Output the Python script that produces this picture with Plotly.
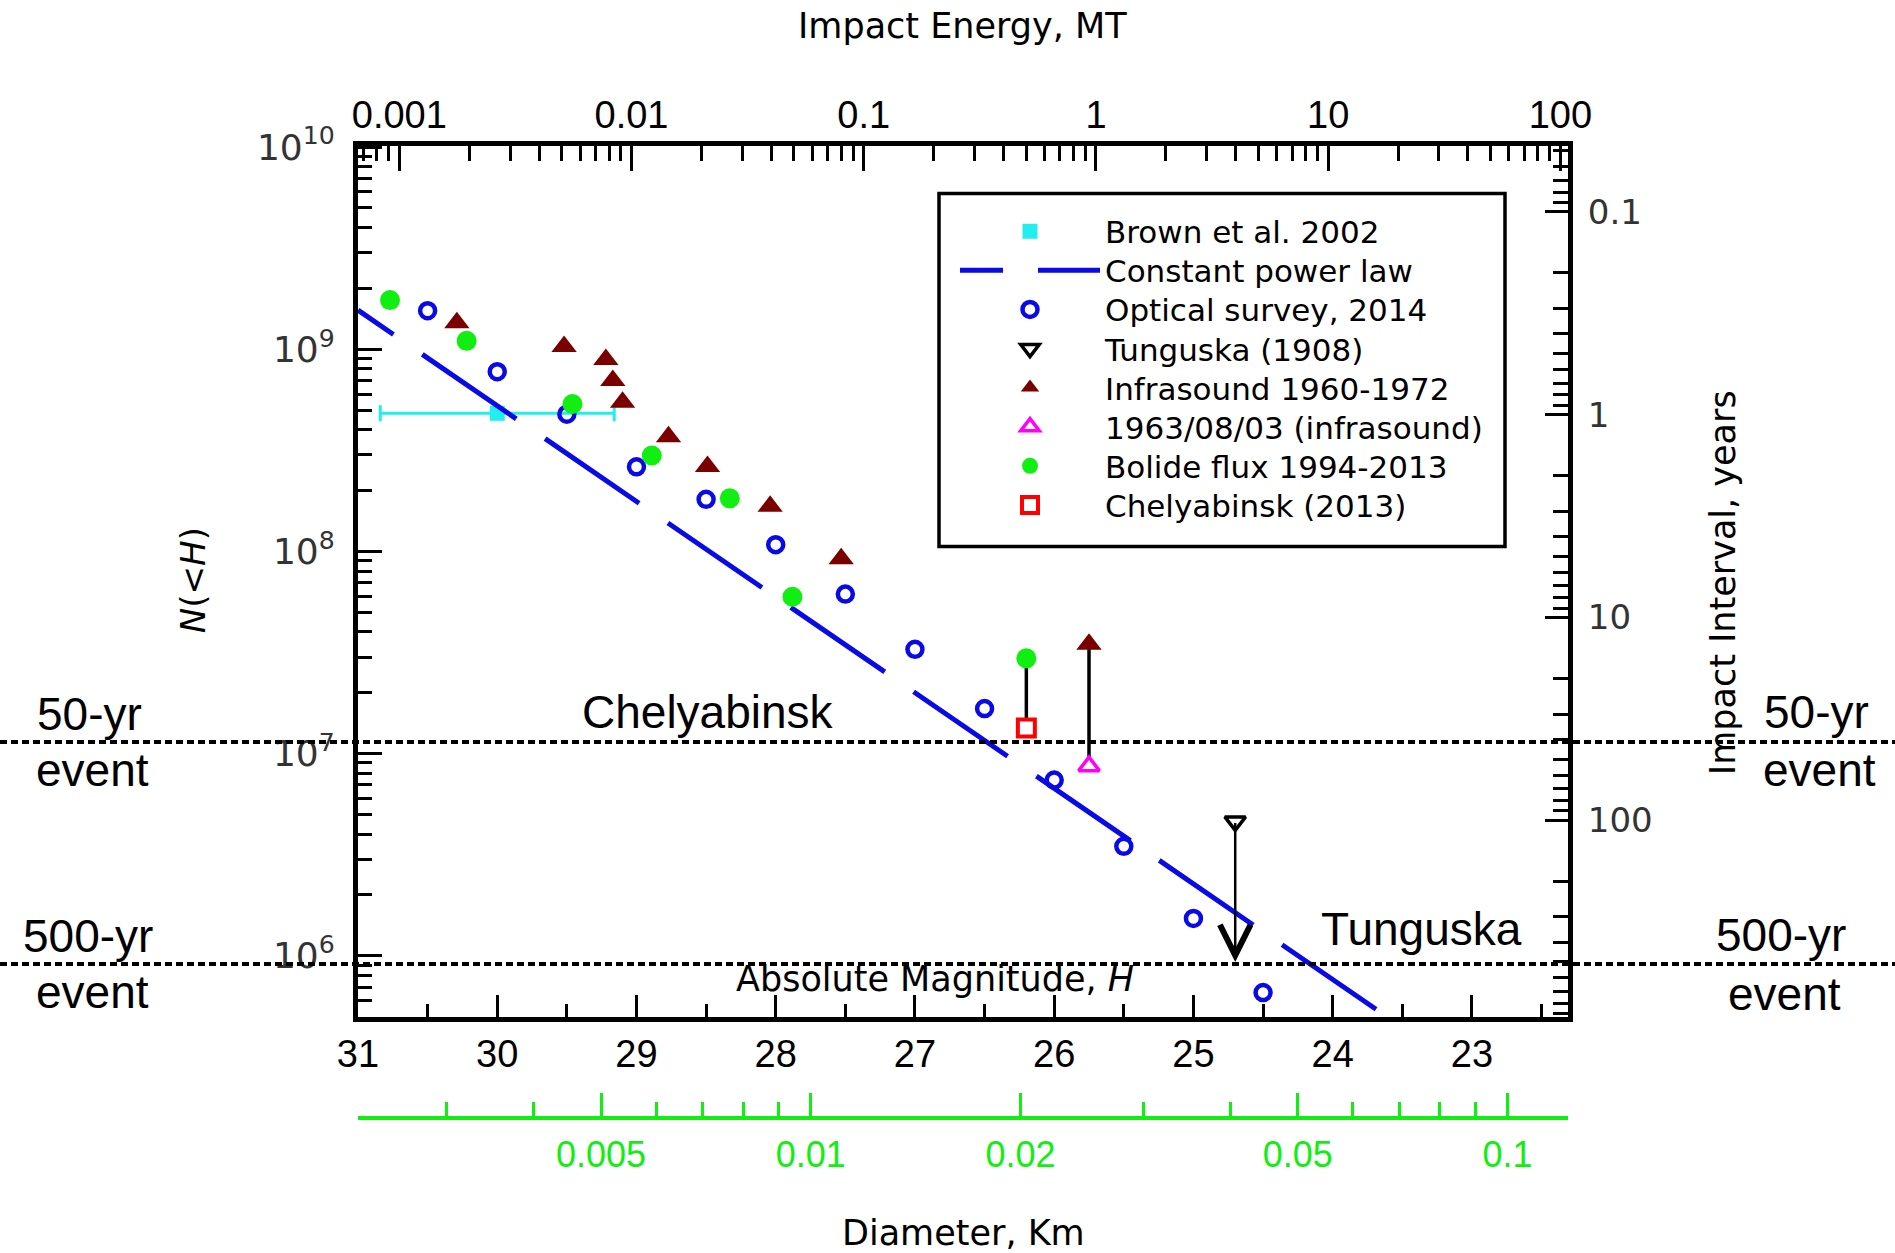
import numpy as np
import plotly.graph_objects as go

# ---------------- data ----------------
H_brown = [30.0]
N_brown = [4.82e8]
H_brown_err = [0.84]

H_power = [31.0, 23.66]
N_power = [1.56e9, 5.27e5]

H_optical = [30.5, 30.0, 29.5, 29.0, 28.5, 28.0, 27.5, 27.0, 26.5, 26.0, 25.5, 25.0, 24.5]
N_optical = [1.55e9, 7.74e8, 4.77e8, 2.62e8, 1.81e8, 1.08e8, 6.15e7, 3.28e7, 1.67e7,
             7.40e6, 3.48e6, 1.53e6, 6.58e5]

H_tung = [24.70]
N_tung = [4.62e6]
N_tung_limit = [9.33e5]

H_infra = [30.29, 29.52, 29.22, 29.17, 29.10, 28.77, 28.49, 28.04, 27.53, 25.75]
N_infra = [1.35e9, 1.03e9, 8.9e8, 7.0e8, 5.46e8, 3.69e8, 2.63e8, 1.67e8, 9.2e7, 3.47e7]

H_1963 = [25.75]
N_1963 = [8.67e6]

H_bolide = [30.77, 30.22, 29.46, 28.89, 28.33, 27.88, 26.20]
N_bolide = [1.75e9, 1.10e9, 5.36e8, 2.98e8, 1.83e8, 5.97e7, 2.96e7]

H_chel = [26.20]
N_chel = [1.34e7]

N_50yr = 1.14e7
N_500yr = 9.1e5

H_ticks = [31, 30, 29, 28, 27, 26, 25, 24, 23]
E_ticks = [0.001, 0.01, 0.1, 1, 10, 100]
E_ticktext = ["0.001", "0.01", "0.1", "1", "10", "100"]
N_ticks = [1e6, 1e7, 1e8, 1e9, 1e10]
N_ticktext = ["10<sup>6</sup>", "10<sup>7</sup>", "10<sup>8</sup>", "10<sup>9</sup>", "10<sup>10</sup>"]
T_ticks = [0.1, 1, 10, 100]
T_ticktext = ["0.1", "1", "10", "100"]
D_ticks = [0.005, 0.01, 0.02, 0.05, 0.1]
D_ticktext = ["0.005", "0.01", "0.02", "0.05", "0.1"]
D_minor = [0.003, 0.004, 0.006, 0.007, 0.008, 0.009, 0.03, 0.04, 0.06, 0.07, 0.08, 0.09]

legend_names = ["Brown et al. 2002", "Constant power law", "Optical survey, 2014",
                "Tunguska (1908)", "Infrasound 1960-1972", "1963/08/03 (infrasound)",
                "Bolide flux 1994-2013", "Chelyabinsk (2013)"]

# ---------------- styling / layout helpers ----------------
ARIAL = "Liberation Sans, Arial, sans-serif"
DEJAVU = "DejaVu Sans, Verdana, sans-serif"
GREEN = "#11EE11"
BLUE = "#0A0AE6"
MAROON = "#7A0000"
CYAN = "#22EEEE"
MAGENTA = "#FF00FF"
RED = "#FF0000"

W, HGT = 1895, 1253
PL, PR, PT, PB = 358, 1568, 146, 1117.7   # paper box in px
PLOT_BOTTOM = 1017


def pp(x, y):
    return (x - PL) / (PR - PL), (PB - y) / (PB - PT)


def log_minor(lo, hi):
    out = []
    for e in range(lo, hi + 1):
        for m in range(2, 10):
            out.append(m * 10.0 ** e)
    return out


fig = go.Figure()

# power-law dash pattern
dash_pl = ",".join(f"{v}px" for v in ([43, 35] + [114, 35] * 10))

fig.add_trace(go.Scatter(
    x=H_brown, y=N_brown, mode="markers", name=legend_names[0], legend="legend",
    marker=dict(symbol="square", size=15, color=CYAN),
    error_x=dict(type="data", array=H_brown_err, color=CYAN, thickness=3, width=8)))

fig.add_trace(go.Scatter(
    x=H_power, y=N_power, mode="lines", name=legend_names[1], legend="legend2",
    line=dict(color=BLUE, width=5, dash=dash_pl)))

# connecting black lines (Chelyabinsk range, 1963 event range)
fig.add_trace(go.Scatter(
    x=[H_chel[0], H_bolide[-1]], y=[N_chel[0], N_bolide[-1]], mode="lines",
    line=dict(color="black", width=3.5), showlegend=False, hoverinfo="skip"))
fig.add_trace(go.Scatter(
    x=[H_1963[0], H_infra[-1]], y=[N_1963[0], N_infra[-1]], mode="lines",
    line=dict(color="black", width=3.5), showlegend=False, hoverinfo="skip"))

fig.add_trace(go.Scatter(
    x=H_optical, y=N_optical, mode="markers", name=legend_names[2], legend="legend3",
    marker=dict(symbol="circle-open", size=15, color=BLUE, line=dict(width=4.5, color=BLUE))))

fig.add_trace(go.Scatter(
    x=H_tung, y=N_tung, mode="markers", name=legend_names[3], legend="legend4",
    marker=dict(symbol="triangle-down", size=18, color="white", line=dict(width=3.5, color="black"))))

fig.add_trace(go.Scatter(
    x=H_infra, y=N_infra, mode="markers", name=legend_names[4], legend="legend5",
    marker=dict(symbol="triangle-up", size=22, color=MAROON)))

fig.add_trace(go.Scatter(
    x=H_1963, y=N_1963, mode="markers", name=legend_names[5], legend="legend6",
    marker=dict(symbol="triangle-up", size=18, color="white", line=dict(width=3.5, color=MAGENTA))))

fig.add_trace(go.Scatter(
    x=H_bolide, y=N_bolide, mode="markers", name=legend_names[6], legend="legend7",
    marker=dict(symbol="circle", size=20, color=GREEN)))

fig.add_trace(go.Scatter(
    x=H_chel, y=N_chel, mode="markers", name=legend_names[7], legend="legend8",
    marker=dict(symbol="square", size=17, color="white", line=dict(width=4, color=RED))))

# empty placeholder traces so the secondary axes (energy, interval, diameter) are drawn
for xa, ya in (("x2", "y"), ("x", "y2"), ("x3", "y")):
    fig.add_trace(go.Scatter(x=[None], y=[None], xaxis=xa, yaxis=ya, mode="markers",
                             showlegend=False, hoverinfo="skip"))

ydom0 = (PB - PLOT_BOTTOM) / (PB - PT)

tick_black = dict(ticks="inside", tickcolor="black", tickwidth=3)

layout = dict(
    width=W, height=HGT,
    margin=dict(l=PL, r=W - PR, t=PT, b=HGT - PB, pad=0, autoexpand=False),
    paper_bgcolor="white", plot_bgcolor="white",
    showlegend=True,
    xaxis=dict(
        domain=[0, 1], range=[31, 22.31], showline=True, linewidth=5, linecolor="black",
        ticklen=22, **tick_black,
        tickvals=H_ticks, ticktext=[str(v) for v in H_ticks],
        tickfont=dict(family=ARIAL, size=38, color="black"),
        minor=dict(tickvals=[v - 0.5 for v in H_ticks] + [22.5], ticks="inside", ticklen=13,
                   tickwidth=3, tickcolor="black", showgrid=False),
        showgrid=False, zeroline=False, automargin=False, ticklabelstandoff=-1),
    yaxis=dict(
        domain=[ydom0, 1], type="log", range=[5.696, 10.005], showline=True, linewidth=5,
        linecolor="black", ticklen=24, **tick_black,
        tickvals=N_ticks, ticktext=N_ticktext,
        tickfont=dict(family=DEJAVU, size=36, color="#333333"),
        minor=dict(tickvals=log_minor(5, 9), ticks="inside", ticklen=14, tickwidth=3,
                   tickcolor="black", showgrid=False),
        showgrid=False, zeroline=False, automargin=False, ticklabelstandoff=11),
    xaxis2=dict(
        overlaying="x", side="top", anchor="y", type="log", range=[-3.178, 2.033],
        showline=True, linewidth=5, linecolor="black", ticklen=25, **tick_black,
        tickvals=E_ticks, ticktext=E_ticktext,
        tickfont=dict(family=ARIAL, size=38, color="black"),
        minor=dict(tickvals=log_minor(-4, 2), ticks="inside", ticklen=15, tickwidth=3,
                   tickcolor="black", showgrid=False),
        showgrid=False, zeroline=False, automargin=False, ticklabelstandoff=-2),
    yaxis2=dict(
        overlaying="y", side="right", anchor="x", type="log", range=[2.973, -1.325],
        showline=True, linewidth=5, linecolor="black", ticklen=23, **tick_black,
        tickvals=T_ticks, ticktext=T_ticktext,
        tickfont=dict(family=DEJAVU, size=34, color="#333333"),
        minor=dict(tickvals=log_minor(-2, 2), ticks="inside", ticklen=15, tickwidth=3,
                   tickcolor="black", showgrid=False),
        showgrid=False, zeroline=False, automargin=False, ticklabelstandoff=8),
    xaxis3=dict(
        overlaying="x", anchor="free", position=0, side="bottom", type="log",
        range=[-2.650, -0.913], showline=True, linewidth=4, linecolor=GREEN,
        ticks="inside", tickcolor=GREEN, tickwidth=3, ticklen=23,
        tickvals=D_ticks, ticktext=D_ticktext,
        tickfont=dict(family=ARIAL, size=36, color=GREEN),
        minor=dict(tickvals=D_minor, ticks="inside", ticklen=14, tickwidth=3,
                   tickcolor=GREEN, showgrid=False),
        showgrid=False, zeroline=False, automargin=False, ticklabelstandoff=4),
)

# one legend per row so rows sit at the reference spacing
row0, row_step = 231.5, 39.1
for i in range(8):
    key = "legend" if i == 0 else f"legend{i + 1}"
    lx, ly = pp(955, row0 + row_step * i)
    layout[key] = dict(x=lx, y=ly, xanchor="left", yanchor="middle",
                       bgcolor="rgba(0,0,0,0)", borderwidth=0, itemwidth=140,
                       font=dict(family=DEJAVU, size=31, color="black"))

fig.update_layout(**layout)

# legend frame
bx0, by0 = pp(939, 193.4)
bx1, by1 = pp(1505, 546.3)
fig.add_shape(type="rect", xref="paper", yref="paper", x0=bx0, y0=by0, x1=bx1, y1=by1,
              line=dict(color="black", width=3.5), fillcolor="rgba(0,0,0,0)", layer="above")

# dotted 50-yr / 500-yr lines across the whole figure
xl, _ = pp(0, 0)
xr, _ = pp(W, 0)
for level in (N_50yr, N_500yr):
    fig.add_shape(type="line", xref="paper", yref="y", x0=xl, x1=xr,
                  y0=level, y1=level,
                  line=dict(color="black", width=4, dash="7px,4px"), layer="above")

# Tunguska upper-limit arrow
fig.add_annotation(x=H_tung[0], y=np.log10(N_tung_limit[0]), xref="x", yref="y",
                   ax=H_tung[0], ay=np.log10(N_tung[0]), axref="x", ayref="y",
                   text="", showarrow=True, arrowhead=5, arrowsize=2.4, arrowwidth=2.5,
                   arrowcolor="black", standoff=0, startstandoff=0)


def add_text(txt, x, y, family, size, color="black", angle=0):
    px_, py_ = pp(x, y)
    fig.add_annotation(x=px_, y=py_, xref="paper", yref="paper", text=txt, showarrow=False,
                       xanchor="center", yanchor="middle", textangle=angle,
                       font=dict(family=family, size=size, color=color))


add_text("Impact Energy, MT", 962, 26.3, DEJAVU, 35)
add_text("Diameter, Km", 963, 1233, DEJAVU, 35)
add_text("Impact Interval, years", 1723, 583, DEJAVU, 35, angle=-90)
add_text("<i>N</i>(&lt;<i>H</i>)", 193, 580, DEJAVU, 34, angle=-90)
add_text("Absolute Magnitude, <i>H</i>", 935, 979, DEJAVU, 35)
add_text("Chelyabinsk", 708, 711.7, ARIAL, 46)
add_text("Tunguska", 1421, 928.7, ARIAL, 46)
add_text("50-yr", 89, 714, ARIAL, 46)
add_text("event", 92.5, 770, ARIAL, 46)
add_text("500-yr", 88, 936, ARIAL, 46)
add_text("event", 92.5, 992, ARIAL, 46)
add_text("50-yr", 1816, 712, ARIAL, 46)
add_text("event", 1819, 770, ARIAL, 46)
add_text("500-yr", 1780.5, 935, ARIAL, 46)
add_text("event", 1784, 994, ARIAL, 46)

fig.write_html("out.html")
